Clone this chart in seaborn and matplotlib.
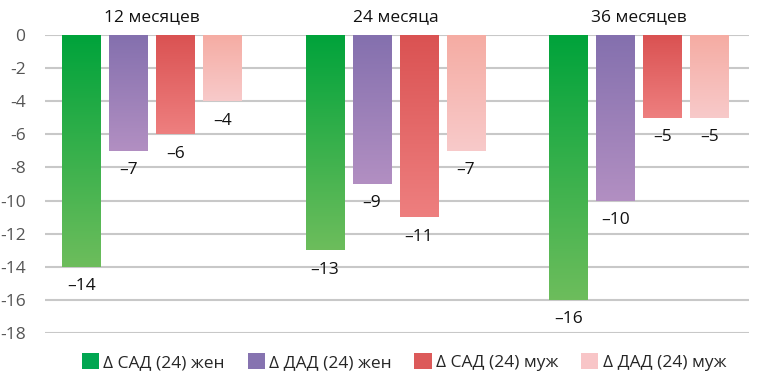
import numpy as np
import pandas as pd
import matplotlib
matplotlib.use("Agg")
import matplotlib.pyplot as plt
import seaborn as sns
from matplotlib.colors import LinearSegmentedColormap
from matplotlib.patches import Rectangle

periods = ["12 месяцев", "24 месяца", "36 месяцев"]
series = ["Δ САД (24) жен", "Δ ДАД (24) жен", "Δ САД (24) муж", "Δ ДАД (24) муж"]
sad_f = [-14, -13, -16]
dad_f = [-7, -9, -10]
sad_m = [-6, -11, -5]
dad_m = [-4, -7, -5]
yticks = list(range(0, -19, -2))

top_colors = ["#00a33b", "#8470ae", "#da5252", "#f5aca3"]
bot_colors = ["#6dbd5c", "#b28fc2", "#ee7f7f", "#f8caca"]
legend_colors = ["#00a651", "#8673b0", "#dc5a5a", "#f8c5c7"]

df = pd.DataFrame({
    "period": np.repeat(periods, 4),
    "series": series * 3,
    "value": [v for trio in zip(sad_f, dad_f, sad_m, dad_m) for v in trio],
})

sns.set_theme(style="white")
plt.rcParams["font.family"] = ["Open Sans", "DejaVu Sans"]

fig = plt.figure(figsize=(7.78, 3.86), dpi=100)
ax = fig.add_axes([45 / 778, 53 / 386, 704 / 778, 298 / 386])

sns.barplot(data=df, x="period", y="value", hue="series", order=periods,
            hue_order=series, palette=legend_colors, width=0.772, ax=ax,
            legend=False, errorbar=None, saturation=1)

ax.set_ylim(-18, 0)
ax.set_xlim(-0.439, 2.452)
ax.set_yticks(yticks)
ax.set_yticklabels([str(t) for t in yticks], fontsize=12.5, color="#555555")
ax.tick_params(axis="y", length=0, pad=14)
ax.set_xticks([])
ax.set_xlabel("")
ax.set_ylabel("")
for s in ax.spines.values():
    s.set_visible(False)
for t in yticks:
    ax.axhline(t, color="#c8c8c8", lw=1.5, zorder=0)

bar_w = 0.158
patches = [p for p in ax.patches if isinstance(p, Rectangle) and p.get_width() > 0]
for i, p in enumerate(patches):
    si = i // 3
    cmap = LinearSegmentedColormap.from_list("g", [top_colors[si], bot_colors[si]])
    cx = p.get_x() + p.get_width() / 2
    p.set_x(cx - bar_w / 2)
    p.set_width(bar_w)
    x0, w = p.get_x(), p.get_width()
    y0, h = p.get_y(), p.get_height()
    ytop, ybot = max(y0, y0 + h), min(y0, y0 + h)
    grad = np.linspace(0, 1, 256).reshape(-1, 1)
    im = ax.imshow(grad, cmap=cmap, aspect="auto", extent=[x0, x0 + w, ybot, ytop],
                   origin="upper", zorder=2)
    im.set_clip_path(p)
    p.set_facecolor("none")
    p.set_edgecolor("none")
    val = ybot
    ax.annotate(f"\u2013{abs(int(round(val)))}", (cx, val), xytext=(0, -14),
                textcoords="offset points", ha="center", va="center",
                fontsize=12.5, color="#111111", annotation_clip=False, zorder=3)
ax.set_ylim(-18, 0)
ax.set_xlim(-0.439, 2.452)

for i, per in enumerate(periods):
    ax.text(i, 1.1, per, ha="center", va="center", fontsize=12.5, color="#111111",
            transform=ax.transData, clip_on=False)

handles = [Rectangle((0, 0), 1, 1, facecolor=c, edgecolor="none") for c in legend_colors]
fig.legend(handles, series, loc="center", bbox_to_anchor=(404 / 778, 1 - 362 / 386),
           ncol=4, frameon=False, fontsize=12.5, handlelength=1.0, handleheight=1.0,
           handletextpad=0.25, columnspacing=1.3)

fig.savefig("out.png", dpi=100)
